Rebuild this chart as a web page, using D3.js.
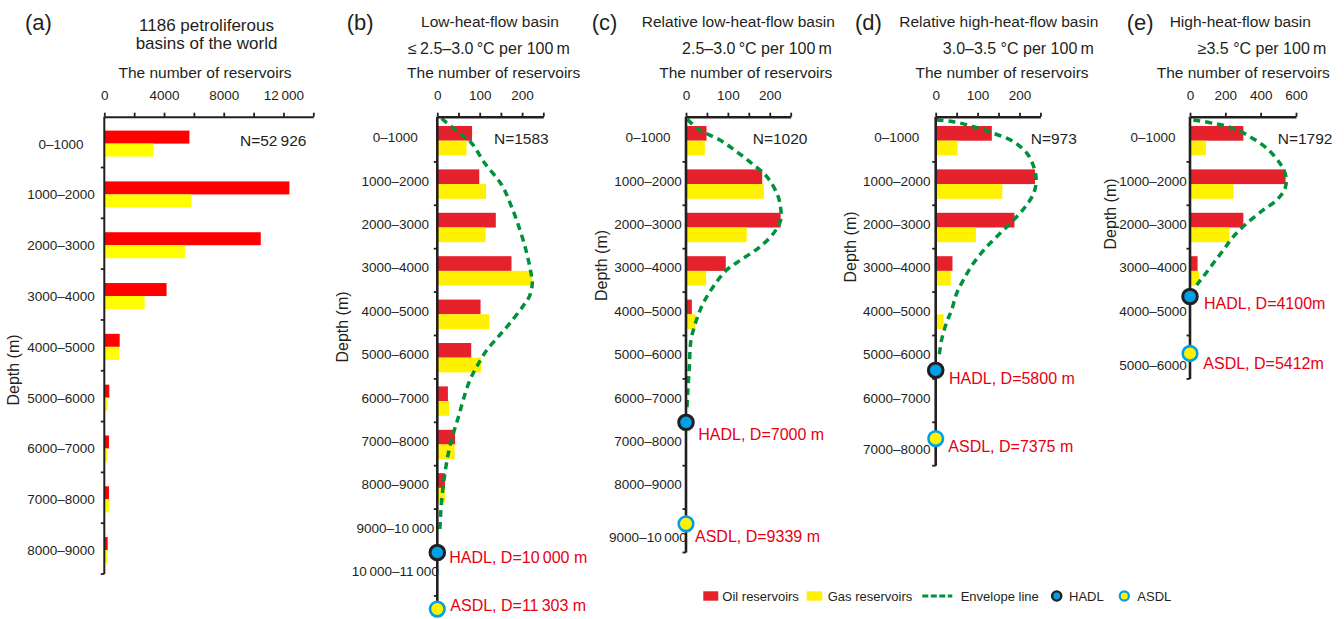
<!DOCTYPE html>
<html>
<head>
<meta charset="utf-8">
<script src="https://cdn.jsdelivr.net/npm/d3@7"></script>
<style>
  body { margin: 0; background: #fff; }
  svg { display: block; }
</style>
</head>
<body>
<svg id="chart" width="1344" height="619"></svg>
<script>
// ---------- data ----------
// (a) all 1186 petroliferous basins, reservoirs per 1000 m depth band
const worldBands = ["0–1000", "1000–2000", "2000–3000", "3000–4000", "4000–5000",
                    "5000–6000", "6000–7000", "7000–8000", "8000–9000"];
const worldOil = [5700, 12400, 10480, 4170, 1030, 335, 314, 314, 227];
const worldGas = [3280, 5850, 5400, 2700, 983, 227, 200, 335, 200];
const worldTicks = [0, 4000, 8000, 12000];

// (b) low-heat-flow basins
const lowOil = [82, 99, 138, 175, 102, 80, 25, 42, 18];
const lowGas = [69, 115, 114, 224, 123, 103, 28, 41, 18];
const lowEnvelope = [[10, 0], [48, 304], [81, 571], [112, 1032], [152, 1532], [175, 2032],
  [195, 2569], [211, 3106], [221, 3567], [224, 3800], [218, 4080], [204, 4300], [171, 4719],
  [144, 5028], [117, 5334], [93, 5719], [77, 6025], [61, 6486], [50, 6871], [38, 7253],
  [26, 7714], [18, 8175], [12, 8636], [8, 9097], [6, 9480]];
const lowHadl = 10000, lowAsdl = 11303;

// (c) relative low-heat-flow basins
const relLowOil = [49, 182, 226, 95, 14, 0];
const relLowGas = [45, 186, 145, 48, 23, 3];
const relLowEnvelope = [[3, 20], [33, 265], [81, 495], [121, 765], [157, 1032], [193, 1341],
  [217, 1724], [225, 1993], [226, 2339], [209, 2645], [177, 2954], [137, 3221], [97, 3491],
  [65, 3876], [41, 4258], [25, 4643], [12, 5104], [8, 5719], [4, 6332], [2, 6717]];
const relLowHadl = 7000, relLowAsdl = 9339;

// (d) relative high-heat-flow basins
const relHighOil = [134, 237, 188, 40, 0];
const relHighGas = [52, 159, 96, 36, 19];
const relHighEnvelope = [[2, 35], [42, 74], [90, 189], [138, 341], [186, 535], [218, 802],
  [234, 1111], [240, 1417], [234, 1724], [214, 2032], [186, 2339], [154, 2645], [122, 2954],
  [90, 3336], [66, 3721], [50, 4028], [38, 4412], [26, 4700], [14, 5104], [8, 5488]];
const relHighHadl = 5800, relHighAsdl = 7375;

// (e) high-heat-flow basins
const highOil = [302, 541, 302, 43];
const highGas = [90, 247, 223, 51];
const highEnvelope = [[19, 35], [132, 111], [245, 226], [340, 419], [434, 687], [509, 1032],
  [543, 1341], [538, 1608], [491, 1878], [415, 2108], [321, 2415], [245, 2724], [189, 3030],
  [132, 3336], [75, 3645], [38, 3836]];
const highHadl = 4100, highAsdl = 5412;

const totals = { a: 52926, b: 1583, c: 1020, d: 973, e: 1792 };

// ---------- styling ----------
const FONT = "'Liberation Sans', Arial, Helvetica, sans-serif";
const INK = "#231f20";
const RED = "#e5212b", YELLOW = "#fff100", GREEN = "#00913a";
const BLUE = "#00a0e9", LABEL_RED = "#e60012";
const AXIS_Y = 116.7;          // top value axis
const DEPTH_Y0 = 118.5;        // depth 0 position
const PX_PER_KM = 43.4;        // vertical size of a 1000 m band

const svg = d3.select("#chart").attr("font-family", FONT);

const fmt = d => d >= 10000 ? d3.format(",")(d).replace(",", "\u2009") : String(d);
const bandLabel = d => `${fmt(d)}–${fmt(d + 1000)}`;

function txt(g, x, y, s, size, opts = {}) {
  return g.append("text")
    .attr("x", x).attr("y", y)
    .attr("dominant-baseline", "central")
    .attr("text-anchor", opts.anchor || "middle")
    .attr("font-size", size)
    .attr("fill", opts.fill || INK)
    .attr("transform", opts.rotate ? `rotate(-90,${x},${y})` : null)
    .text(s);
}

function topAxis(g, x, step, max, labeled, strokeW) {
  const ax = d3.axisTop(x)
    .tickValues(d3.range(0, max + step / 2, step))
    .tickSize(4).tickSizeOuter(0).tickPadding(13)
    .tickFormat(d => labeled.includes(d) ? fmt(d) : "");
  const a = g.append("g").attr("transform", `translate(0,${AXIS_Y})`).call(ax);
  a.attr("font-family", FONT).attr("font-size", 13.5);
  a.select(".domain").attr("stroke", INK).attr("stroke-width", strokeW);
  a.selectAll(".tick line").attr("stroke", INK).attr("stroke-width", 1.8);
  a.selectAll(".tick text").attr("fill", INK);
}

// ---------- (a) ----------
{
  const g = svg.append("g");
  const x = d3.scaleLinear().domain([0, 14000]).range([104.3, 313.3]);
  const y = d3.scaleBand().domain(worldBands).range([AXIS_Y, 574]);
  const barH = 13;
  const mid = b => y(b) + y.bandwidth() / 2 + 1.5;

  g.selectAll(".oil").data(worldBands).join("rect")
    .attr("x", x(0)).attr("y", b => mid(b) - barH)
    .attr("width", (b, i) => x(worldOil[i]) - x(0)).attr("height", barH)
    .attr("fill", "#ff0000");
  g.selectAll(".gas").data(worldBands).join("rect")
    .attr("x", x(0)).attr("y", b => mid(b))
    .attr("width", (b, i) => x(worldGas[i]) - x(0)).attr("height", barH)
    .attr("fill", "#ffff00");

  topAxis(g, x, 2000, 14000, worldTicks, 2);
  g.append("line").attr("x1", x(0)).attr("x2", x(0)).attr("y1", AXIS_Y).attr("y2", 574)
    .attr("stroke", INK).attr("stroke-width", 2);
  g.selectAll(".bt").data(worldBands).join("line")
    .attr("x1", x(0) - 3.5).attr("x2", x(0))
    .attr("y1", b => y(b) + y.bandwidth()).attr("y2", b => y(b) + y.bandwidth())
    .attr("stroke", INK).attr("stroke-width", 1.8);
  worldBands.forEach(b => txt(g, 61, y(b) + y.bandwidth() / 2 + 2, b, 13.5));

  txt(g, 25, 22, "(a)", 22, { anchor: "start" });
  txt(g, 206.5, 25, "1186 petroliferous", 17);
  txt(g, 206.5, 43.5, "basins of the world", 17);
  txt(g, 205, 72.7, "The number of reservoirs", 15.5);
  txt(g, 240, 140, `N=${fmt(totals.a)}`, 15.5, { anchor: "start" });
  txt(g, 13, 370, "Depth (m)", 16, { rotate: true });
}

// ---------- (b)–(e) ----------
const panels = [
  { key: "b", tag: "(b)", tagX: 346.7, title: "Low-heat-flow basin", titleX: 490,
    sub: "≤\u20092.5–3.0\u2009°C per 100\u2009m", subX: 489, axisTitleX: 493.7,
    x0: 437.3, xw: 106, xmax: 250, step: 50, ticks: [0, 100, 200],
    maxDepth: 11000, oil: lowOil, gas: lowGas, env: lowEnvelope,
    hadl: lowHadl, asdl: lowAsdl, unit: " m",
    hadlOff: [12, 5], asdlOff: [13, -4], nX: 494, catDx: -42, lastDy: 0, depthPos: [342.7, 327] },
  { key: "c", tag: "(c)", tagX: 591.7, title: "Relative low-heat-flow basin", titleX: 738.3,
    sub: "2.5–3.0\u2009°C per 100\u2009m", subX: 757, axisTitleX: 745.8,
    x0: 686, xw: 104.7, xmax: 250, step: 50, ticks: [0, 100, 200],
    maxDepth: 10000, oil: relLowOil, gas: relLowGas, env: relLowEnvelope,
    hadl: relLowHadl, asdl: relLowAsdl, unit: " m",
    hadlOff: [12.3, 12], asdlOff: [9, 13], nX: 752.7, catDx: -38, lastDy: 9, depthPos: [601.7, 265.5] },
  { key: "d", tag: "(d)", tagX: 855, title: "Relative high-heat-flow basin", titleX: 998.8,
    sub: "3.0–3.5 °C per 100\u2009m", subX: 1018.3, axisTitleX: 1002,
    x0: 935.7, xw: 104.7, xmax: 250, step: 50, ticks: [0, 100, 200],
    maxDepth: 8000, oil: relHighOil, gas: relHighGas, env: relHighEnvelope,
    hadl: relHighHadl, asdl: relHighAsdl, unit: " m",
    hadlOff: [13.3, 8], asdlOff: [12.6, 8], nX: 1030.7, catDx: -39, lastDy: 8, depthPos: [850, 247] },
  { key: "e", tag: "(e)", tagX: 1126.7, title: "High-heat-flow basin", titleX: 1240.3,
    sub: "≥3.5 °C per 100\u2009m", subX: 1262, axisTitleX: 1243.3,
    x0: 1190, xw: 106, xmax: 600, step: 200, ticks: [0, 200, 400, 600],
    maxDepth: 6000, oil: highOil, gas: highGas, env: highEnvelope,
    hadl: highHadl, asdl: highAsdl, unit: "m",
    hadlOff: [14, 7], asdlOff: [13.3, 10], nX: 1277.7, catDx: -37, lastDy: 11, depthPos: [1110, 214] }
];

panels.forEach(p => {
  const g = svg.append("g");
  const x = d3.scaleLinear().domain([0, p.xmax]).range([p.x0, p.x0 + p.xw]);
  const y = d3.scaleLinear().domain([0, p.maxDepth])
    .range([DEPTH_Y0, DEPTH_Y0 + p.maxDepth / 1000 * PX_PER_KM]);
  const barH = 14.7;
  const mid = i => y(i * 1000 + 500) + 0.5;

  g.selectAll(".oil").data(p.oil).join("rect")
    .attr("x", x(0)).attr("y", (v, i) => mid(i) - barH)
    .attr("width", v => x(v) - x(0)).attr("height", barH).attr("fill", RED);
  g.selectAll(".gas").data(p.gas).join("rect")
    .attr("x", x(0)).attr("y", (v, i) => mid(i))
    .attr("width", v => x(v) - x(0)).attr("height", barH).attr("fill", YELLOW);

  // envelope line
  const line = d3.line().x(d => x(d[0])).y(d => y(d[1])).curve(d3.curveCatmullRom.alpha(0.5));
  g.append("path").datum(p.env).attr("d", line)
    .attr("fill", "none").attr("stroke", GREEN).attr("stroke-width", 3.5)
    .attr("stroke-dasharray", "7,5");

  topAxis(g, x, p.step, p.xmax, p.ticks, 2.5);
  const bottom = Math.max(y(p.maxDepth), y(p.asdl));
  g.append("line").attr("x1", x(0)).attr("x2", x(0)).attr("y1", AXIS_Y).attr("y2", bottom)
    .attr("stroke", INK).attr("stroke-width", 2.6);
  const depthTicks = d3.range(1000, p.maxDepth + 1, 1000);
  g.selectAll(".dt").data(depthTicks).join("line")
    .attr("x1", x(0) - 3.5).attr("x2", x(0)).attr("y1", d => y(d)).attr("y2", d => y(d))
    .attr("stroke", INK).attr("stroke-width", 1.8);
  const starts = d3.range(0, p.maxDepth, 1000);
  starts.forEach((d, i) =>
    txt(g, p.x0 + p.catDx, y(d + 500) - 2.5 + (i === starts.length - 1 ? p.lastDy : 0),
      bandLabel(d), 13.5));

  // deepest hydrocarbon limits
  g.append("circle").attr("cx", x(0)).attr("cy", y(p.hadl)).attr("r", 7.3)
    .attr("fill", BLUE).attr("stroke", INK).attr("stroke-width", 3);
  g.append("circle").attr("cx", x(0)).attr("cy", y(p.asdl)).attr("r", 7.3)
    .attr("fill", YELLOW).attr("stroke", BLUE).attr("stroke-width", 2.6);
  txt(g, x(0) + p.hadlOff[0], y(p.hadl) + p.hadlOff[1], `HADL, D=${fmt(p.hadl)}${p.unit}`, 16,
    { anchor: "start", fill: LABEL_RED });
  txt(g, x(0) + p.asdlOff[0], y(p.asdl) + p.asdlOff[1], `ASDL, D=${fmt(p.asdl)}${p.unit}`, 16,
    { anchor: "start", fill: LABEL_RED });

  txt(g, p.tagX, 22, p.tag, 22, { anchor: "start" });
  txt(g, p.titleX, 21, p.title, 15.5);
  txt(g, p.subX, 48, p.sub, 16);
  txt(g, p.axisTitleX, 72.7, "The number of reservoirs", 15.5);
  txt(g, p.nX, 138.7, `N=${fmt(totals[p.key])}`, 15.5, { anchor: "start" });
  txt(g, p.depthPos[0], p.depthPos[1], "Depth (m)", 16, { rotate: true });
});

// ---------- legend ----------
{
  const g = svg.append("g");
  const ly = 596;
  g.append("rect").attr("x", 703.3).attr("y", ly - 4.7).attr("width", 15).attr("height", 9.4).attr("fill", RED);
  txt(g, 722.3, ly, "Oil reservoirs", 13, { anchor: "start" });
  g.append("rect").attr("x", 806.7).attr("y", ly - 4.7).attr("width", 15.6).attr("height", 9.4).attr("fill", YELLOW);
  txt(g, 827.7, ly, "Gas reservoirs", 13, { anchor: "start" });
  g.append("line").attr("x1", 922.3).attr("x2", 952.3).attr("y1", ly).attr("y2", ly)
    .attr("stroke", GREEN).attr("stroke-width", 3.2).attr("stroke-dasharray", "6,2.5");
  txt(g, 960.7, ly, "Envelope line", 13, { anchor: "start" });
  g.append("circle").attr("cx", 1056.7).attr("cy", ly).attr("r", 4.6)
    .attr("fill", BLUE).attr("stroke", INK).attr("stroke-width", 2.4);
  txt(g, 1069, ly, "HADL", 13, { anchor: "start" });
  g.append("circle").attr("cx", 1124.3).attr("cy", ly).attr("r", 4.6)
    .attr("fill", YELLOW).attr("stroke", BLUE).attr("stroke-width", 2.2);
  txt(g, 1137.3, ly, "ASDL", 13, { anchor: "start" });
}
</script>
</body>
</html>
